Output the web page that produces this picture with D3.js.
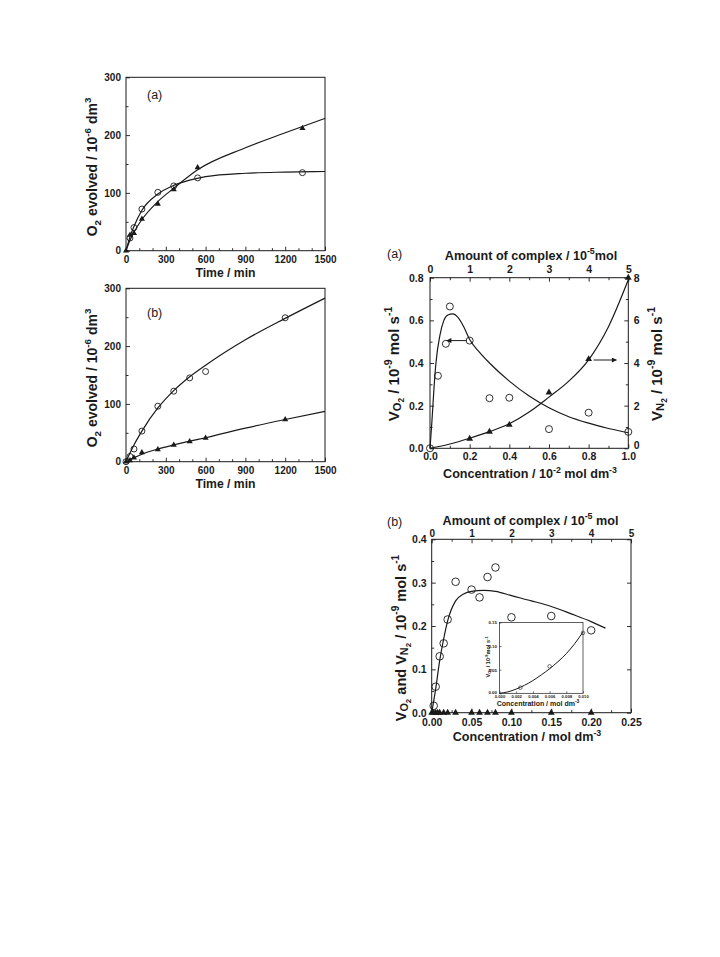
<!DOCTYPE html>
<html>
<head>
<meta charset="utf-8">
<script src="https://cdn.jsdelivr.net/npm/d3@7"></script>
<style>
body { margin: 0; background: #fff; }
svg { display: block; font-family: "Liberation Sans", Arial, Helvetica, sans-serif; }
</style>
</head>
<body>
<svg id="fig" width="720" height="957"></svg>
<script>
// values

// left (a): O2 evolved vs time
var timeA_circ = [[30, 22], [60, 40], [120, 72], [240, 101], [360, 112], [540, 126], [1330, 135]]
var timeA_tri = [[0, 0], [30, 27], [60, 30], [120, 55], [240, 81], [360, 106], [540, 144], [1330, 212]]
var fitA_circ = [[0, 0], [30, 24], [60, 42], [120, 70], [240, 98], [360, 113], [480, 122], [600, 128], [900, 134], [1200, 136], [1500, 137]]
var fitA_tri = [[0, 0], [30, 18], [60, 32], [120, 54], [240, 85], [360, 108], [540, 140], [900, 178], [1200, 204], [1500, 229]]

// left (b)
var timeB_circ = [[0, 0], [30, 9], [60, 22], [120, 53], [240, 96], [360, 122], [480, 145], [600, 156], [1200, 249]]
var timeB_tri = [[0, 0], [30, 2], [60, 7], [120, 16], [240, 21], [360, 29], [480, 35], [600, 41], [1200, 73]]
var fitB_circ = [[0, 0], [30, 15], [60, 29], [120, 53], [240, 93], [360, 123], [480, 147], [600, 167], [900, 211], [1200, 248], [1500, 283]]
var fitB_tri = [[0, 0], [60, 7], [120, 13], [240, 22], [360, 29], [480, 35.5], [600, 41.5], [900, 58], [1200, 73], [1500, 87]]

var timeTicks = [0, 300, 600, 900, 1200, 1500]
var o2Ticks = [0, 100, 200, 300]

// right (a): rates vs concentration (10^-2 mol dm^-3)
var concA = [0, 0.04, 0.08, 0.1, 0.2, 0.3, 0.4, 0.6, 0.8, 1.0]
var vO2A = [0, 0.34, 0.49, 0.665, 0.505, 0.235, 0.237, 0.09, 0.167, 0.077]
var concA_n2 = [0.2, 0.3, 0.4, 0.6, 0.8, 1.0]
var vN2A = [0.45, 0.78, 1.1, 2.62, 4.18, 8.0]
var fitO2A = [[0, 0], [0.01, 0.13], [0.02, 0.28], [0.03, 0.4], [0.05, 0.53], [0.07, 0.6], [0.09, 0.625], [0.115, 0.63], [0.14, 0.615], [0.17, 0.57], [0.2, 0.51], [0.25, 0.45], [0.3, 0.4], [0.4, 0.315], [0.5, 0.245], [0.6, 0.19], [0.7, 0.148], [0.8, 0.118], [0.9, 0.093], [1.0, 0.073]]
var fitN2A = [[0, 0], [0.1, 0.2], [0.2, 0.47], [0.3, 0.78], [0.4, 1.15], [0.5, 1.7], [0.6, 2.4], [0.7, 3.15], [0.8, 4.15], [0.9, 5.7], [1.0, 7.9]]

// right (b): rates vs concentration (mol dm^-3)
var concB = [0.0025, 0.005, 0.01, 0.015, 0.02, 0.03, 0.05, 0.06, 0.07, 0.08, 0.10, 0.15, 0.20]
var vO2B = [0.016, 0.06, 0.13, 0.16, 0.215, 0.302, 0.284, 0.266, 0.313, 0.335, 0.22, 0.223, 0.19]
var concB_n2 = [0, 0.0025, 0.005, 0.0075, 0.01, 0.015, 0.02, 0.03, 0.05, 0.06, 0.07, 0.08, 0.10, 0.15, 0.20]
var vN2B = [0, 0, 0, 0, 0, 0, 0, 0, 0, 0, 0, 0, 0, 0, 0]
var fitO2B = [[0, 0], [0.005, 0.055], [0.01, 0.12], [0.015, 0.17], [0.02, 0.212], [0.03, 0.258], [0.04, 0.274], [0.05, 0.28], [0.065, 0.282], [0.08, 0.28], [0.10, 0.27], [0.125, 0.258], [0.15, 0.245], [0.175, 0.228], [0.2, 0.21], [0.218, 0.195]]

// inset of (b)
var concIn = [0.0025, 0.006, 0.010]
var vO2In = [0.012, 0.057, 0.128]
var fitIn = [[0, 0], [0.001, 0.003], [0.002, 0.009], [0.003, 0.017], [0.004, 0.027], [0.005, 0.039], [0.006, 0.052], [0.007, 0.067], [0.008, 0.084], [0.009, 0.105], [0.010, 0.13]]

var ink = "#1a1a1a"
var svg = d3.select("#fig")

function panel(x0, y0, w, h, sw) {
    var g = svg.append("g").attr("transform", "translate(" + x0 + "," + y0 + ")")
    g.append("rect")
        .attr("width", w).attr("height", h)
        .attr("fill", "#fff").attr("stroke", ink).attr("stroke-width", sw || 1)
    return g
}

function drawAxis(g, side, scale, major, minor, fmt, o) {
    var make = {bottom: d3.axisBottom, top: d3.axisTop, left: d3.axisLeft, right: d3.axisRight}[side]
    var a = g.append("g")
    if (side == "bottom") a.attr("transform", "translate(0," + o.at + ")")
    if (side == "right") a.attr("transform", "translate(" + o.at + ",0)")
    if (minor.length)
        a.append("g").call(make(scale).tickValues(minor).tickSizeInner(-o.minor).tickSizeOuter(0).tickFormat(""))
    a.append("g").call(make(scale).tickValues(major).tickSizeInner(-o.major).tickSizeOuter(0).tickPadding(o.pad).tickFormat(fmt))
    a.selectAll(".domain").remove()
    a.selectAll("line").attr("stroke", ink).attr("stroke-width", o.sw || 0.9)
    a.selectAll("text")
        .attr("fill", ink)
        .style("font-size", o.fs + "px")
        .style("font-weight", "bold")
    return a
}

// text with sub/superscripts: parts = [text, shift(em), scale]
function rich(g, x, y, rot, fs, parts, weight) {
    var t = g.append("text")
        .attr("transform", "translate(" + x + "," + y + ")" + (rot ? " rotate(" + rot + ")" : ""))
        .attr("text-anchor", "middle")
        .attr("fill", ink)
        .style("font-weight", weight || "bold")
        .style("font-size", fs + "px")
    var prev = 0
    parts.forEach(function (p) {
        var shift = (p[1] || 0) * fs
        t.append("tspan").text(p[0])
            .attr("dy", shift - prev)
            .style("font-size", fs * (p[2] || 1) + "px")
        prev = shift
    })
    return t
}

function fitLine(g, x, y, pts, sw) {
    g.append("path")
        .datum(pts)
        .attr("fill", "none").attr("stroke", ink).attr("stroke-width", sw || 1.2)
        .attr("d", d3.line().x(d => x(d[0])).y(d => y(d[1])).curve(d3.curveMonotoneX))
}

function circles(g, xs, ys, x, y, r, sw) {
    g.selectAll(null).data(xs).enter().append("circle")
        .attr("cx", d => x(d)).attr("cy", (d, i) => y(ys[i]))
        .attr("r", r).attr("fill", "none").attr("stroke", ink).attr("stroke-width", sw || 0.9)
}

function triangles(g, xs, ys, x, y, size) {
    g.selectAll(null).data(xs).enter().append("path")
        .attr("transform", (d, i) => "translate(" + x(d) + "," + y(ys[i]) + ")")
        .attr("d", d3.symbol(d3.symbolTriangle, size))
        .attr("fill", ink)
}

var fmtInt = d3.format("d")
var steps = (a, b, s) => d3.range(Math.round((b - a) / s) + 1).map(i => +(a + i * s).toFixed(5))
var minorOf = (all, major) => all.filter(v => major.indexOf(v) < 0)

// ---------- left (a), (b) ----------
function timePanel(y0, label, circ, tri, fitC, fitT) {
    var w = 199, h = 173.4
    var g = panel(126, y0, w, h)
    var x = d3.scaleLinear().domain([0, 1500]).range([0, w])
    var y = d3.scaleLinear().domain([0, 300]).range([h, 0])
    drawAxis(g, "bottom", x, timeTicks, minorOf(steps(0, 1500, 100), timeTicks), fmtInt, {at: h, major: 4, minor: 2.5, pad: 5, fs: 10})
    drawAxis(g, "left", y, o2Ticks, [50, 150, 250], fmtInt, {major: 4, minor: 2.5, pad: 5, fs: 10})
    fitLine(g, x, y, fitC)
    fitLine(g, x, y, fitT)
    circles(g, circ.map(d => d[0]), circ.map(d => d[1]), x, y, 3)
    triangles(g, tri.map(d => d[0]), tri.map(d => d[1]), x, y, 16)
    g.append("text").attr("x", 21).attr("y", y0 < 200 ? 22 : 29)
        .attr("fill", ink).style("font-size", "12.5px").text(label)
    rich(svg, 225.5, y0 + h + 26.5, 0, 12.2, [["Time / min"]])
    rich(svg, 96.5, y0 + h / 2 + 3, -90, 14, [["O"], ["2", 0.3, 0.7], [" evolved / 10", 0], ["-6", -0.42, 0.7], [" dm", 0], ["3", -0.42, 0.7]])
}

timePanel(77.3, "(a)", timeA_circ, timeA_tri, fitA_circ, fitA_tri)
timePanel(288.3, "(b)", timeB_circ, timeB_tri, fitB_circ, fitB_tri)

// ---------- right (a) ----------
;(function () {
    var w = 198.3, h = 170.6
    var g = panel(430, 277.7, w, h)
    var x = d3.scaleLinear().domain([0, 1]).range([0, w])
    var xt = d3.scaleLinear().domain([0, 5]).range([0, w])
    var yl = d3.scaleLinear().domain([0, 0.8]).range([h, 0])
    var yr = d3.scaleLinear().domain([0, 8]).range([h, 0])
    var f1 = d3.format(".1f")
    drawAxis(g, "bottom", x, steps(0, 1, 0.2), [0.1, 0.3, 0.5, 0.7, 0.9], f1, {at: h, major: 4, minor: 2.5, pad: 4.6, fs: 10.5})
    drawAxis(g, "top", xt, steps(0, 5, 1), [0.5, 1.5, 2.5, 3.5, 4.5], fmtInt, {major: 4, minor: 2.5, pad: 4.4, fs: 10.5})
    drawAxis(g, "left", yl, steps(0, 0.8, 0.2), [0.1, 0.3, 0.5, 0.7], f1, {major: 4, minor: 2.5, pad: 6.5, fs: 10.5})
    var ra = drawAxis(g, "right", yr, steps(0, 8, 2), [1, 3, 5, 7], fmtInt, {at: w, major: 4, minor: 2.5, pad: 5.5, fs: 10.5})
    // lift the corner "0" a little so it clears the "1.0" below it
    ra.selectAll(".tick text").filter(d => d === 0).attr("dy", "0.05em")

    fitLine(g, x, yl, fitO2A)
    fitLine(g, x, yr, fitN2A)
    circles(g, concA, vO2A, x, yl, 3.5)
    triangles(g, concA_n2, vN2A, x, yr, 20)

    // arrows pointing to each axis
    var defs = svg.append("defs")
    defs.append("marker").attr("id", "ah").attr("viewBox", "0 0 10 10")
        .attr("refX", 9).attr("refY", 5).attr("markerWidth", 6).attr("markerHeight", 5)
        .attr("orient", "auto").attr("markerUnits", "userSpaceOnUse")
        .append("path").attr("d", "M0,0L10,5L0,10Z").attr("fill", ink)
    g.append("line")
        .attr("x1", x(0.185)).attr("x2", x(0.085)).attr("y1", yl(0.505)).attr("y2", yl(0.505))
        .attr("stroke", ink).attr("stroke-width", 1).attr("marker-end", "url(#ah)")
    g.append("line")
        .attr("x1", x(0.825)).attr("x2", x(0.94)).attr("y1", yr(4.14)).attr("y2", yr(4.14))
        .attr("stroke", ink).attr("stroke-width", 1).attr("marker-end", "url(#ah)")

    svg.append("text").attr("x", 387).attr("y", 257.5).attr("fill", ink).style("font-size", "12.5px").text("(a)")
    rich(svg, 531, 259.5, 0, 12.6, [["Amount of complex / 10"], ["-5", -0.42, 0.7], ["mol", 0]])
    rich(svg, 530, 478, 0, 12.6, [["Concentration / 10"], ["-2", -0.42, 0.7], [" mol dm", 0], ["-3", -0.42, 0.7]])
    rich(svg, 398.5, 364, -90, 15, [["V"], ["O", 0.15, 0.75], ["2", 0.38, 0.55], [" / 10", 0], ["-9", -0.42, 0.7], [" mol s", 0], ["-1", -0.42, 0.7]])
    rich(svg, 661.5, 364, -90, 15, [["V"], ["N", 0.15, 0.75], ["2", 0.38, 0.55], [" / 10", 0], ["-9", -0.42, 0.7], [" mol s", 0], ["-1", -0.42, 0.7]])
})()

// ---------- right (b) ----------
;(function () {
    var w = 199.3, h = 173.4
    var g = panel(431.7, 539.3, w, h)
    var x = d3.scaleLinear().domain([0, 0.25]).range([0, w])
    var xt = d3.scaleLinear().domain([0, 5]).range([0, w])
    var y = d3.scaleLinear().domain([0, 0.4]).range([h, 0])
    drawAxis(g, "bottom", x, steps(0, 0.25, 0.05), [0.025, 0.075, 0.125, 0.175, 0.225], d3.format(".2f"), {at: h, major: 4, minor: 2.5, pad: 5.8, fs: 10.5})
    drawAxis(g, "top", xt, steps(0, 5, 1), [0.5, 1.5, 2.5, 3.5, 4.5], fmtInt, {major: 4, minor: 2.5, pad: 2.8, fs: 10})
    drawAxis(g, "left", y, steps(0, 0.4, 0.1), [0.05, 0.15, 0.25, 0.35], d3.format(".1f"), {major: 4, minor: 2.5, pad: 5, fs: 10.5})
    drawAxis(g, "right", y, steps(0, 0.4, 0.1), [], "", {at: w, major: 4, minor: 0, pad: 0, fs: 1})

    fitLine(g, x, y, fitO2B)
    circles(g, concB, vO2B, x, y, 3.8)
    triangles(g, concB_n2, vN2B, x, y, 20)

    svg.append("text").attr("x", 387).attr("y", 526).attr("fill", ink).style("font-size", "12.5px").text("(b)")
    rich(svg, 530.5, 524.5, 0, 12.6, [["Amount of complex / 10"], ["-5", -0.42, 0.7], [" mol", 0]])
    rich(svg, 527, 741, 0, 12.6, [["Concentration / mol dm"], ["-3", -0.42, 0.7]])
    rich(svg, 405.5, 638, -90, 14.5, [["V"], ["O", 0.15, 0.75], ["2", 0.38, 0.55], [" and V", 0], ["N", 0.15, 0.75], ["2", 0.38, 0.55], [" / 10", 0], ["-9", -0.42, 0.7], [" mol s", 0], ["-1", -0.42, 0.7]])

    // inset
    var iw = 83.5, ih = 70.8
    var gi = panel(499.5, 622.5, iw, ih, 0.7)
    var xi = d3.scaleLinear().domain([0, 0.01]).range([0, iw])
    var yi = d3.scaleLinear().domain([0, 0.15]).range([ih, 0])
    drawAxis(gi, "bottom", xi, steps(0, 0.01, 0.002), [], d3.format(".3f"), {at: ih, major: 2, minor: 0, pad: 1.6, fs: 4.2, sw: 0.6})
    var il = drawAxis(gi, "left", yi, steps(0, 0.15, 0.05), [], d3.format(".2f"), {major: 2, minor: 0, pad: 2.5, fs: 4.4, sw: 0.6})
    il.selectAll(".tick text").filter(d => d === 0).attr("dy", "0em")
    fitLine(gi, xi, yi, fitIn, 1)
    circles(gi, concIn, vO2In, xi, yi, 1.8, 0.6)
    rich(svg, 538, 705.5, 0, 7, [["Concentration / mol dm"], ["-3", -0.42, 0.7]])
    rich(svg, 490, 657, -90, 5.6, [["V"], ["O", 0.15, 0.75], ["2", 0.38, 0.55], [" / 10", 0], ["-9", -0.42, 0.7], ["mol s", 0], ["-1", -0.42, 0.7]])
})()
</script>
</body>
</html>
